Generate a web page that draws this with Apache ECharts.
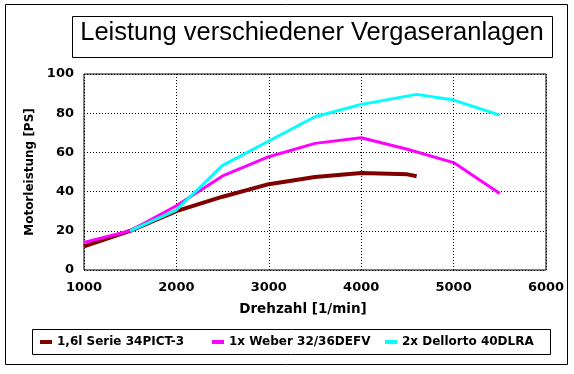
<!DOCTYPE html>
<html><head><meta charset="utf-8">
<script src="https://cdn.jsdelivr.net/npm/echarts@6/dist/echarts.min.js"></script>
<style>html,body{margin:0;padding:0;background:#fff}#c{width:574px;height:374px}</style>
</head><body><div id="c"></div>
<script>
const titleText = 'Leistung verschiedener Vergaseranlagen';
const xName = 'Drehzahl [1/min]';
const yName = 'Motorleistung [PS]';
const seriesNames = ['1,6l Serie 34PICT-3', '1x Weber 32/36DEFV', '2x Dellorto 40DLRA'];
const rpmSerie = [1000, 1500, 2000, 2500, 3000, 3500, 4000, 4500, 4600];
const psSerie = [12, 20, 30, 37.4, 43.8, 47.5, 49.5, 48.8, 47.8];
const rpmWeber = [1000, 1500, 2000, 2500, 3000, 3500, 4000, 4500, 5000, 5500];
const psWeber = [14, 20, 32.8, 48, 57.8, 64.6, 67.5, 61.6, 54.8, 39];
const rpmDellorto = [1500, 2000, 2500, 3000, 3500, 4000, 4600, 5000, 5500];
const psDellorto = [20, 30.6, 53.4, 65.8, 78.2, 84.5, 89.6, 86.7, 79];
const colors = ['#800000', '#ff00ff', '#00ffff'];
const widths = [4, 3, 3];

const pair = (xs, ys) => xs.map((x, i) => [x, ys[i]]);
const datas = [pair(rpmSerie, psSerie), pair(rpmWeber, psWeber), pair(rpmDellorto, psDellorto)];
const F = 'Liberation Sans, Arial, sans-serif';
const B = 'DejaVu Sans, Verdana, sans-serif';
const legendLefts = [40, 212, 385];

const chart = echarts.init(document.getElementById('c'));
chart.setOption({
  animation: false,
  title: {
    text: titleText, left: 312, top: 20, textAlign: 'center', padding: 0,
    textStyle: { fontFamily: F, fontSize: 25.5, fontWeight: 'normal', color: '#000' }
  },
  graphic: [
    { type: 'rect', shape: { x: 5.5, y: 4.5, width: 562, height: 360 }, style: { fill: 'none', stroke: '#000', lineWidth: 1 }, silent: true },
    { type: 'rect', shape: { x: 72.5, y: 16.5, width: 480, height: 41 }, style: { fill: 'none', stroke: '#000', lineWidth: 1 }, silent: true },
    { type: 'rect', shape: { x: 32.5, y: 329.5, width: 518, height: 25 }, style: { fill: 'none', stroke: '#000', lineWidth: 1 }, silent: true }
  ],
  legend: seriesNames.map((n, i) => ({
    left: legendLefts[i], top: 336, padding: 0, itemWidth: 12, itemHeight: 4, icon: 'rect',
    textStyle: { fontFamily: B, fontSize: 12, fontWeight: 'bold', color: '#000' },
    data: [n]
  })),
  grid: { left: 84, right: 28, top: 74, bottom: 104, show: true, borderColor: '#000', borderWidth: 1 },
  xAxis: {
    type: 'value', min: 1000, max: 6000, interval: 1000,
    name: xName, nameLocation: 'middle', nameGap: 32,
    nameTextStyle: { fontFamily: B, fontSize: 13.5, fontWeight: 'bold', color: '#000', padding: [0, 24, 0, 0] },
    axisLine: { show: false }, axisTick: { show: false },
    axisLabel: { fontFamily: B, fontSize: 13, fontWeight: 'bold', color: '#000', margin: 11, formatter: v => String(v) },
    splitLine: { show: true, lineStyle: { color: '#000', type: [1, 2], width: 1 } }
  },
  yAxis: {
    type: 'value', min: 0, max: 100, interval: 20,
    name: yName, nameLocation: 'middle', nameGap: 48, nameRotate: 90,
    nameTextStyle: { fontFamily: B, fontSize: 12, fontWeight: 'bold', color: '#000' },
    axisLine: { show: false }, axisTick: { show: false },
    axisLabel: { fontFamily: B, fontSize: 13, fontWeight: 'bold', color: '#000', margin: 10 },
    splitLine: { show: true, lineStyle: { color: '#000', type: [1, 2], width: 1 } }
  },
  series: datas.map((d, i) => ({
    name: seriesNames[i], type: 'line', data: d, showSymbol: false, symbol: 'none',
    itemStyle: { color: colors[i] },
    lineStyle: { color: colors[i], width: widths[i] }
  }))
});
</script></body></html>
